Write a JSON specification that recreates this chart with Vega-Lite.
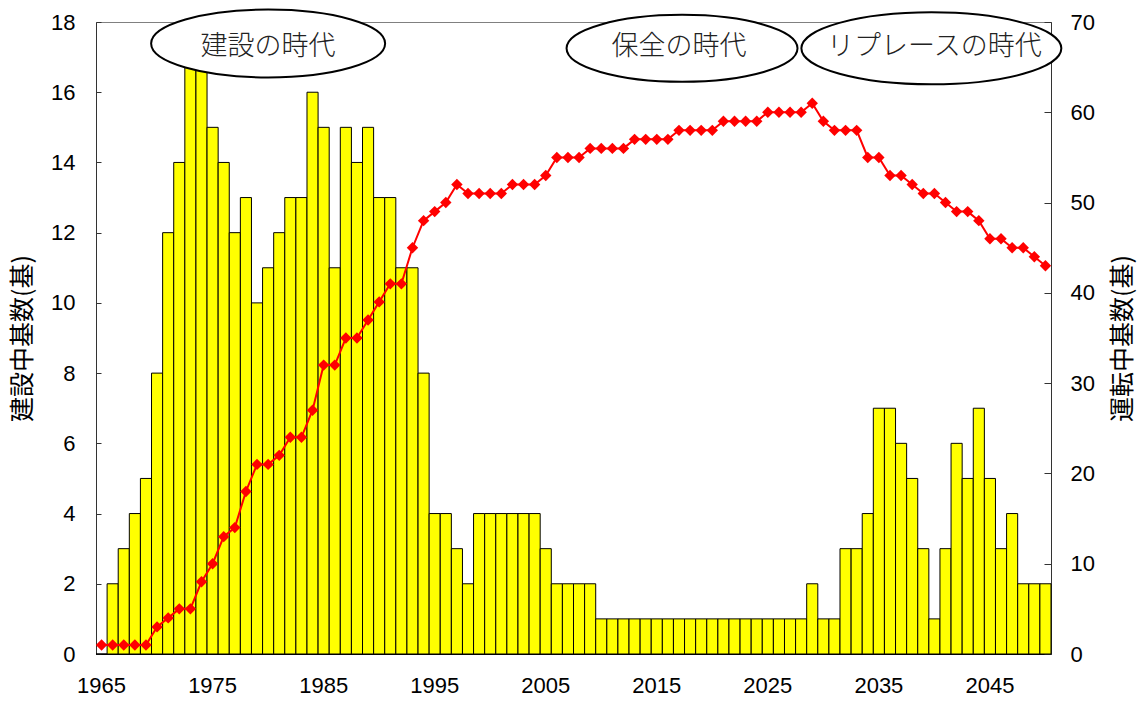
{
  "$schema": "https://vega.github.io/schema/vega-lite/v6.json",
  "width": 955,
  "height": 632,
  "autosize": {"type": "none"},
  "padding": {"left": 96, "top": 22, "right": 93, "bottom": 48},
  "background": "white",
  "config": {
    "view": {"stroke": "#808080", "strokeWidth": 1},
    "axis": {"labelFont": "Liberation Sans", "labelFontSize": 22, "labelColor": "#000", "titleFont": "Noto Sans CJK JP", "titleFontSize": 25, "titleFontWeight": "normal", "titleColor": "#000", "domainColor": "#333", "tickColor": "#333", "grid": false}
  },
  "datasets": {
    "main": [
      {"year": 1965, "construct": 0, "operate": 1},
      {"year": 1966, "construct": 2, "operate": 1},
      {"year": 1967, "construct": 3, "operate": 1},
      {"year": 1968, "construct": 4, "operate": 1},
      {"year": 1969, "construct": 5, "operate": 1},
      {"year": 1970, "construct": 8, "operate": 3},
      {"year": 1971, "construct": 12, "operate": 4},
      {"year": 1972, "construct": 14, "operate": 5},
      {"year": 1973, "construct": 17, "operate": 5},
      {"year": 1974, "construct": 17, "operate": 8},
      {"year": 1975, "construct": 15, "operate": 10},
      {"year": 1976, "construct": 14, "operate": 13},
      {"year": 1977, "construct": 12, "operate": 14},
      {"year": 1978, "construct": 13, "operate": 18},
      {"year": 1979, "construct": 10, "operate": 21},
      {"year": 1980, "construct": 11, "operate": 21},
      {"year": 1981, "construct": 12, "operate": 22},
      {"year": 1982, "construct": 13, "operate": 24},
      {"year": 1983, "construct": 13, "operate": 24},
      {"year": 1984, "construct": 16, "operate": 27},
      {"year": 1985, "construct": 15, "operate": 32},
      {"year": 1986, "construct": 11, "operate": 32},
      {"year": 1987, "construct": 15, "operate": 35},
      {"year": 1988, "construct": 14, "operate": 35},
      {"year": 1989, "construct": 15, "operate": 37},
      {"year": 1990, "construct": 13, "operate": 39},
      {"year": 1991, "construct": 13, "operate": 41},
      {"year": 1992, "construct": 11, "operate": 41},
      {"year": 1993, "construct": 11, "operate": 45},
      {"year": 1994, "construct": 8, "operate": 48},
      {"year": 1995, "construct": 4, "operate": 49},
      {"year": 1996, "construct": 4, "operate": 50},
      {"year": 1997, "construct": 3, "operate": 52},
      {"year": 1998, "construct": 2, "operate": 51},
      {"year": 1999, "construct": 4, "operate": 51},
      {"year": 2000, "construct": 4, "operate": 51},
      {"year": 2001, "construct": 4, "operate": 51},
      {"year": 2002, "construct": 4, "operate": 52},
      {"year": 2003, "construct": 4, "operate": 52},
      {"year": 2004, "construct": 4, "operate": 52},
      {"year": 2005, "construct": 3, "operate": 53},
      {"year": 2006, "construct": 2, "operate": 55},
      {"year": 2007, "construct": 2, "operate": 55},
      {"year": 2008, "construct": 2, "operate": 55},
      {"year": 2009, "construct": 2, "operate": 56},
      {"year": 2010, "construct": 1, "operate": 56},
      {"year": 2011, "construct": 1, "operate": 56},
      {"year": 2012, "construct": 1, "operate": 56},
      {"year": 2013, "construct": 1, "operate": 57},
      {"year": 2014, "construct": 1, "operate": 57},
      {"year": 2015, "construct": 1, "operate": 57},
      {"year": 2016, "construct": 1, "operate": 57},
      {"year": 2017, "construct": 1, "operate": 58},
      {"year": 2018, "construct": 1, "operate": 58},
      {"year": 2019, "construct": 1, "operate": 58},
      {"year": 2020, "construct": 1, "operate": 58},
      {"year": 2021, "construct": 1, "operate": 59},
      {"year": 2022, "construct": 1, "operate": 59},
      {"year": 2023, "construct": 1, "operate": 59},
      {"year": 2024, "construct": 1, "operate": 59},
      {"year": 2025, "construct": 1, "operate": 60},
      {"year": 2026, "construct": 1, "operate": 60},
      {"year": 2027, "construct": 1, "operate": 60},
      {"year": 2028, "construct": 1, "operate": 60},
      {"year": 2029, "construct": 2, "operate": 61},
      {"year": 2030, "construct": 1, "operate": 59},
      {"year": 2031, "construct": 1, "operate": 58},
      {"year": 2032, "construct": 3, "operate": 58},
      {"year": 2033, "construct": 3, "operate": 58},
      {"year": 2034, "construct": 4, "operate": 55},
      {"year": 2035, "construct": 7, "operate": 55},
      {"year": 2036, "construct": 7, "operate": 53},
      {"year": 2037, "construct": 6, "operate": 53},
      {"year": 2038, "construct": 5, "operate": 52},
      {"year": 2039, "construct": 3, "operate": 51},
      {"year": 2040, "construct": 1, "operate": 51},
      {"year": 2041, "construct": 3, "operate": 50},
      {"year": 2042, "construct": 6, "operate": 49},
      {"year": 2043, "construct": 5, "operate": 49},
      {"year": 2044, "construct": 7, "operate": 48},
      {"year": 2045, "construct": 5, "operate": 46},
      {"year": 2046, "construct": 3, "operate": 46},
      {"year": 2047, "construct": 4, "operate": 45},
      {"year": 2048, "construct": 2, "operate": 45},
      {"year": 2049, "construct": 2, "operate": 44},
      {"year": 2050, "construct": 2, "operate": 43}
    ],
    "eras": [
      {"label": "建設の時代", "year": 1980},
      {"label": "保全の時代", "year": 2017},
      {"label": "リプレースの時代", "year": 2040}
    ]
  },
  "layer": [
    {
      "layer": [
        {
          "data": {"name": "main"},
          "mark": {"type": "bar", "fill": "#FFFF00", "stroke": "#000", "strokeWidth": 1},
          "encoding": {
            "x": {"field": "year", "type": "ordinal", "scale": {"paddingInner": 0, "paddingOuter": 0},
              "axis": {"values": [1965, 1975, 1985, 1995, 2005, 2015, 2025, 2035, 2045], "labelAngle": 0, "ticks": false, "labelPadding": 21, "title": null, "domainColor": "#000", "labelBaseline": "top"}},
            "y": {"field": "construct", "type": "quantitative", "scale": {"domain": [0, 18], "nice": false},
              "axis": {"values": [0, 2, 4, 6, 8, 10, 12, 14, 16, 18], "tickSize": -5, "labelPadding": 26, "title": "建設中基数(基)", "titleAngle": 270, "titleBaseline": "middle", "titleX": -74, "titleY": 316, "titleAnchor": "middle"}}
          }
        },
        {
          "data": {"name": "eras"},
          "mark": {"type": "point", "filled": true, "fill": "#FFF", "stroke": "#000", "strokeWidth": 2, "opacity": 1, "size": 54756},
          "encoding": {
            "x": {"field": "year", "type": "ordinal"},
            "y": {"datum": 17.3, "type": "quantitative"},
            "shape": {"field": "label", "type": "nominal", "legend": null,
              "scale": {"domain": ["建設の時代", "保全の時代", "リプレースの時代"],
                "range": [
                  "M-1,-0.026C-1,-0.1862,-0.5523,-0.316,0,-0.316C0.5523,-0.316,1,-0.1862,1,-0.026C1,0.1342,0.5523,0.264,0,0.264C-0.5523,0.264,-1,0.1342,-1,-0.026Z",
                  "M-0.961,0.015C-0.961,-0.143,-0.5191,-0.271,0.026,-0.271C0.5711,-0.271,1.013,-0.143,1.013,0.015C1.013,0.173,0.5711,0.301,0.026,0.301C-0.5191,0.301,-0.961,0.173,-0.961,0.015Z",
                  "M-1.137,0.015C-1.137,-0.1551,-0.6396,-0.293,-0.026,-0.293C0.5876,-0.293,1.085,-0.1551,1.085,0.015C1.085,0.1851,0.5876,0.323,-0.026,0.323C-0.6396,0.323,-1.137,0.1851,-1.137,0.015Z"
                ]}}
          }
        },
        {
          "data": {"name": "eras"},
          "mark": {"type": "text", "font": "Noto Sans CJK JP", "fontSize": 27, "fontWeight": 300, "color": "#222", "baseline": "middle", "align": "center"},
          "encoding": {
            "x": {"field": "year", "type": "ordinal"},
            "y": {"datum": 17.3, "type": "quantitative"},
            "text": {"field": "label"}
          }
        }
      ]
    },
    {
      "data": {"name": "main"},
      "mark": {"type": "line", "color": "#FF0000", "strokeWidth": 2, "point": {"shape": "diamond", "size": 130, "filled": true, "color": "#FF0000"}},
      "encoding": {
        "x": {"field": "year", "type": "ordinal"},
        "y": {"field": "operate", "type": "quantitative", "scale": {"domain": [0, 70], "nice": false},
          "axis": {"orient": "right", "values": [0, 10, 20, 30, 40, 50, 60, 70], "tickSize": -7, "labelPadding": 26, "title": "運転中基数(基)", "titleAngle": 270, "titleBaseline": "middle", "titleX": 71, "titleY": 316, "titleAnchor": "middle"}}
      }
    }
  ],
  "resolve": {"scale": {"y": "independent"}}
}
